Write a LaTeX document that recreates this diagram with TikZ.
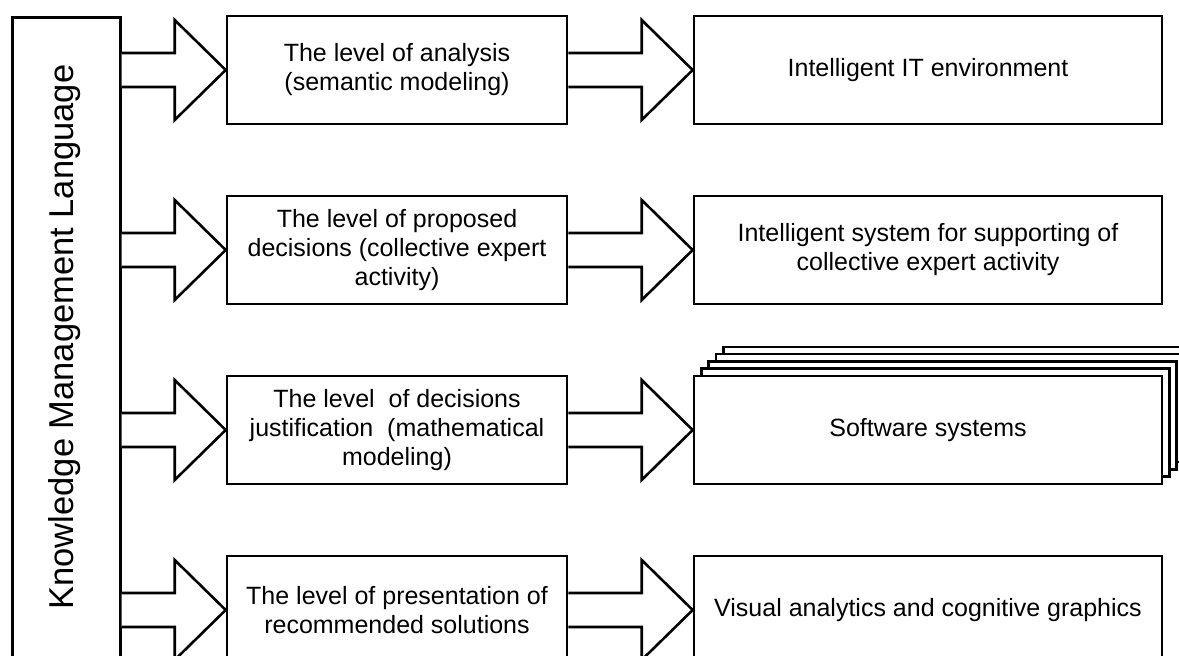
\documentclass[tikz,border=0pt]{standalone}
\usepackage{fontspec}
\setmainfont{Liberation Sans}
\usetikzlibrary{calc}
\tikzset{
  boxst/.style={draw=black, line width=2.6pt, fill=white, rectangle, align=center, inner sep=0pt,
    font=\fontsize{25}{29}\selectfont},
  lvl/.style={boxst, minimum width=340pt, minimum height=108pt},
  res/.style={boxst, minimum width=468pt, minimum height=108pt},
  arr/.style={draw=black, line width=2.6pt, fill=white, line join=miter},
}
\newcommand\blockarrow[2]{%
  \path[arr] let \p1=(#1.east |- #2.west), \p2=(#2.west) in
    (\x1,\y2+17pt) -- (\x2-51pt,\y2+17pt) -- (\x2-51pt,\y2+50pt) -- (\p2)
    -- (\x2-51pt,\y2-50pt) -- (\x2-51pt,\y2-17pt) -- (\x1,\y2-17pt);}
\begin{document}
\begin{tikzpicture}[x=1pt,y=-1pt]
\path[use as bounding box] (0,0) rectangle (1179,656);
\clip (0,0) rectangle (1179,656);
\fill[white] (0,0) rectangle (1179,656);

% left column
\node[boxst, minimum width=108pt, minimum height=644pt, anchor=north west] (L) at (11,16) {};
\node[rotate=90, font=\fontsize{34.5}{40}\selectfont] (Lt) at (65,337) {Knowledge Management Language};

% levels
\node[lvl] (A1) at (397,70) {The level of analysis\\(semantic modeling)};
\node[lvl] (A2) at (397,250) {The level of proposed\\decisions (collective expert\\activity)};
\node[lvl] (A3) at (397,430) {The level \ of decisions\\justification \ (mathematical\\modeling)};
\node[lvl] (A4) at (397,610) {The level of presentation of\\recommended solutions};

% results
\node[res] (B1) at (928,70) {Intelligent IT environment};
\node[res] (B2) at (928,250) {Intelligent system for supporting of\\collective expert activity};
% stacked software systems
\coordinate (Sc) at (928,430);
\foreach \k in {4,3,2,1}{
  \draw[line width=2.6pt, fill=white]
    ($(Sc)+(-234+7.3*\k,-54-7.3*\k)$) rectangle ($(Sc)+(234+7.3*\k,54-7.3*\k)$);
}
\node[res] (B3) at (Sc) {Software systems};
\node[res] (B4) at (928,610) {Visual analytics and cognitive graphics};

% block arrows
\blockarrow{L}{A1}
\blockarrow{L}{A2}
\blockarrow{L}{A3}
\blockarrow{L}{A4}
\blockarrow{A1}{B1}
\blockarrow{A2}{B2}
\blockarrow{A3}{B3}
\blockarrow{A4}{B4}
\end{tikzpicture}
\end{document}
